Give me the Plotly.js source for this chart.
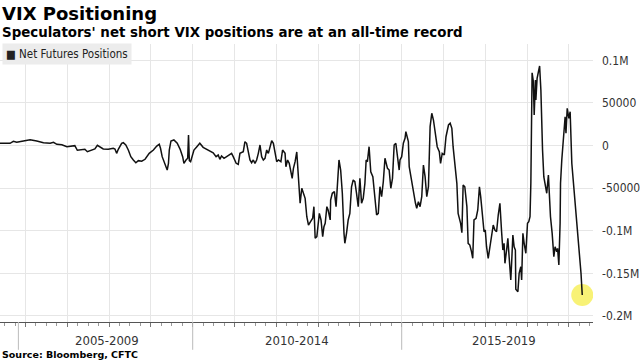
<!DOCTYPE html>
<html><head><meta charset="utf-8">
<script src="https://cdn.plot.ly/plotly-3.0.1.min.js"></script>
<style>html,body{margin:0;padding:0;background:#fff}#chart{width:640px;height:360px}</style>
</head><body><div id="chart"></div>
<script>
// Decimal-year dates of each weekly reading
const years = [
2005.39,2005.63,2005.71,2005.79,2005.95,2006.11,2006.27,2006.43,2006.59,2006.67,
2006.75,2006.87,2006.99,2007.11,2007.18,2007.24,2007.34,2007.42,2007.48,2007.58,
2007.66,2007.72,
2007.78,2007.86,2007.98,2008.10,2008.14,2008.18,2008.22,2008.30,2008.34,2008.40,
2008.46,2008.52,2008.58,2008.64,2008.70,2008.78,2008.86,2008.90,2008.96,2009.06,
2009.14,2009.20,2009.23,2009.27,2009.34,2009.39,2009.42,2009.44,2009.48,2009.55,
2009.63,2009.70,2009.76,2009.79,2009.84,2009.88,2009.90,2009.92,2009.95,2009.98,
2010.03,2010.10,
2010.17,2010.25,2010.33,2010.41,2010.49,2010.56,2010.61,2010.65,2010.69,2010.75,
2010.81,2010.88,2010.93,2010.97,2011.04,2011.09,2011.13,2011.21,2011.25,2011.29,
2011.33,2011.37,2011.41,2011.45,2011.49,2011.53,2011.57,2011.61,2011.65,2011.69,
2011.73,2011.77,2011.81,2011.85,2011.89,2011.93,2011.97,2012.01,2012.05,2012.11,
2012.15,2012.21,2012.23,2012.27,2012.31,2012.35,2012.38,2012.41,2012.45,2012.49,
2012.51,2012.54,2012.57,
2012.61,2012.65,2012.69,2012.73,2012.77,2012.82,2012.87,2012.90,2012.93,2012.97,
2013.00,2013.03,2013.07,2013.11,2013.14,2013.17,2013.21,2013.24,2013.29,2013.30,
2013.34,2013.39,2013.43,2013.46,2013.50,2013.54,2013.58,2013.62,2013.64,2013.68,
2013.72,2013.76,2013.80,2013.84,2013.88,2013.92,2013.96,2014.00,2014.04,2014.08,
2014.12,2014.15,2014.18,2014.22,2014.26,2014.31,2014.36,2014.40,2014.44,2014.48,
2014.52,2014.56,2014.60,2014.66,2014.70,2014.74,2014.78,2014.82,2014.86,2014.89,
2014.94,
2014.96,2015.00,2015.04,2015.08,2015.10,2015.16,2015.18,2015.24,2015.28,2015.30,
2015.33,2015.36,2015.40,2015.44,2015.48,2015.52,2015.56,2015.60,2015.64,2015.68,
2015.72,2015.76,2015.82,2015.85,2015.90,2015.93,2015.97,2016.02,2016.06,2016.12,
2016.16,2016.20,2016.23,2016.28,2016.32,2016.35,2016.41,2016.44,2016.47,2016.51,
2016.56,2016.59,2016.63,2016.67,2016.70,2016.73,2016.78,2016.82,2016.86,2016.89,
2016.94,2016.97,2017.00,2017.03,2017.07,2017.11,2017.15,2017.19,2017.23,2017.27,
2017.31,2017.35,
2017.39,2017.42,2017.45,2017.47,2017.51,2017.54,2017.57,2017.61,2017.63,2017.66,
2017.69,2017.72,2017.73,2017.78,2017.81,2017.85,2017.87,2017.90,2017.93,2017.97,
2018.01,2018.04,2018.07,2018.09,2018.12,2018.15,2018.17,2018.20,2018.21,2018.24,
2018.28,2018.30,2018.33,2018.35,2018.37,2018.40,2018.43,2018.47,2018.51,2018.53,
2018.56,2018.60,2018.64,2018.67,2018.71,2018.73,2018.76,2018.79,2018.80,2018.83,
2018.87,2018.91,2018.93,2018.96,2019.00,2019.03,2019.07,2019.11,2019.15,2019.19,
2019.21,2019.24,2019.27,2019.29,2019.32
];
// Net futures positions (contracts)
const netPositions = [
2600,2600,4900,3800,5300,6800,5300,3300,2600,3800,
1400,900,-1400,-600,-200,-5600,-5300,-4500,-7300,-5300,
-4100,200,
-1400,-4100,-4500,-3300,-4100,-9200,-4500,2600,3300,600,
-5300,-13100,-17000,-20200,-17800,-18500,-16200,-13100,-9200,-5300,
-600,1400,-3300,-13100,-21700,-28800,-20900,-5300,5300,6500,
2600,-4500,-13100,-20900,-17000,-15000,12300,-17800,-19000,-13100,
-5300,-1400,
2600,-2100,-4500,-6100,-8500,-13100,-11200,-16200,-12300,-15000,
-13100,-11200,-9200,-13100,-20900,-22100,-9200,-7300,4500,2600,
-9200,-17000,-20200,-17000,-20900,-17000,-9200,600,-13100,-17000,
-15000,-5300,-9200,-1400,5600,2600,-7300,-19000,-17000,-19000,
-5300,-9200,-24900,-17000,-20900,-30800,-38500,-26800,-19000,-7600,
-20900,-48400,-67800,
-50200,-56100,-62000,-83600,-93300,-89400,-85400,-71800,-108900,-107000,
-91300,-79600,-87400,-107000,-95300,-91300,-71800,-75700,-87400,-64000,
-56100,-54200,-71800,-44400,-17000,-28800,-56100,-103100,-114800,-103100,
-87400,-79600,-48400,-40500,-42500,-56100,-71800,-38500,-67800,-62000,
-44400,-17000,-19000,-1400,-30800,-36600,-67800,-81600,-79600,-48400,
-60100,-42500,-15000,-26800,-28800,-50200,-38500,600,2600,-9200,
-28800,
-17000,-13100,2600,8500,16200,4500,-24900,-44400,-52200,-60100,
-67800,-73700,-66000,-71800,-60100,-22900,-36600,-60100,-48400,22100,
37800,29900,10300,-1400,-7300,-20900,-9200,-11200,10300,24100,
26100,20200,-1400,-24900,-44400,-79600,-91300,-102300,-46400,-48400,
-71800,-114800,-116800,-124600,-132400,-87400,-85400,-75700,-48400,-60100,
-91300,-101200,-99200,-118800,-132400,-118800,-107000,-93300,-99200,-101200,
-81600,-67800,
-101200,-122700,-114800,-138300,-122700,-108900,-130500,-157900,-138300,-105000,
-118800,-122700,-168800,-171600,-150000,-142300,-157900,-103100,-114800,-126500,
-91300,-89400,-83600,-44400,85400,74900,35800,76900,53400,78900,
88600,93300,65100,22100,-5300,-36600,-44400,-56100,-34600,-64000,
-83600,-103100,-130500,-118800,-124600,-120700,-140300,-91300,-44400,-17000,
10300,33800,14300,43700,31900,39700,-20900,-44400,-66000,-89400,
-93300,-120700,-128500,-150000,-175500
];
const yTickVals = [100000, 50000, 0, -50000, -100000, -150000, -200000];
const yTickText = ['0.1M', '50000', '0', '-50000', '-0.1M', '-0.15M', '-0.2M'];
const gridYears = [2006,2007,2008,2009,2010,2011,2012,2013,2014,2015,2016,2017,2018,2019];
const groupLabels = ['2005-2009', '2010-2014', '2015-2019'];
const groupCenters = [2007.95, 2012.5, 2017.45];
const groupDividers = [2005.83, 2010, 2015];
const seriesName = 'Net Futures Positions';

const narrow = '"Liberation Sans Narrow", "DejaVu Sans Condensed", "Arial Narrow", sans-serif';
const boldFont = '"DejaVu Sans", Verdana, sans-serif';
const last = years.length - 1;

const traces = [
  {x: [years[last]], y: [netPositions[last]], type: 'scatter', mode: 'markers',
   marker: {size: 22, color: 'rgba(246,238,80,0.78)', line: {width: 0}},
   hoverinfo: 'skip', showlegend: false},
  {x: years, y: netPositions, type: 'scatter', mode: 'lines', name: seriesName,
   line: {color: '#111', width: 1.5}, showlegend: false}
];

const H = 278, bottomPx = 322;
const py = p => (bottomPx - p) / H;

const annotations = [
  {text: '<b>VIX Positioning</b>', xref: 'paper', yref: 'paper', x: 0, y: py(13), xanchor: 'left', yanchor: 'middle',
   showarrow: false, font: {family: boldFont, size: 18, color: '#000'}},
  {text: "<b>Speculators' net short VIX positions are at an all-time record</b>", xref: 'paper', yref: 'paper', x: 0, y: py(32),
   xanchor: 'left', yanchor: 'middle', showarrow: false, font: {family: boldFont, size: 13.4, color: '#000'}},
  {text: '■ ' + seriesName, xref: 'paper', yref: 'paper', x: 0.003, y: py(54), xanchor: 'left', yanchor: 'middle',
   showarrow: false, bgcolor: '#ececec', borderpad: 3, font: {family: narrow, size: 11.5, color: '#222'}},
  {text: '<b>Source: Bloomberg, CFTC</b>', xref: 'paper', yref: 'paper', x: 0, y: py(354), xanchor: 'left', yanchor: 'middle',
   showarrow: false, font: {family: boldFont, size: 9.5, color: '#000'}}
];
groupLabels.forEach((t, i) => annotations.push({
  text: t, xref: 'x', yref: 'paper', x: groupCenters[i], y: py(340), xanchor: 'center', yanchor: 'middle',
  showarrow: false, font: {family: narrow, size: 13, color: '#333'}
}));

const shapes = groupDividers.map(d => ({
  type: 'line', xref: 'x', yref: 'paper', x0: d, x1: d, y0: 0, y1: -0.1,
  line: {color: '#bbb', width: 1}
}));

const layout = {
  width: 640, height: 360,
  margin: {l: 0, r: 47, t: 44, b: 38, pad: 0},
  paper_bgcolor: '#fff', plot_bgcolor: '#fff',
  showlegend: false,
  xaxis: {
    type: 'linear', range: [2005.39, 2019.577],
    tickmode: 'array', tickvals: gridYears, showticklabels: false,
    showgrid: true, gridcolor: '#e6e6e6', gridwidth: 1,
    ticks: 'outside', ticklen: 4, tickcolor: '#777',
    minor: {ticks: 'outside', ticklen: 3, dtick: 0.25, tick0: 2005, tickcolor: '#999', showgrid: false},
    showline: true, linecolor: '#555', linewidth: 1, zeroline: false, fixedrange: true
  },
  yaxis: {
    side: 'right', range: [-207160, 119130],
    tickmode: 'array', tickvals: yTickVals, ticktext: yTickText,
    showgrid: true, gridcolor: '#e6e6e6', gridwidth: 1,
    zeroline: false, showline: false, ticks: '', ticklabelstandoff: 8,
    tickfont: {family: narrow, size: 12, color: '#333'}, fixedrange: true
  },
  annotations: annotations,
  shapes: shapes
};

Plotly.newPlot('chart', traces, layout, {displayModeBar: false, staticPlot: true});
</script>
</body></html>
